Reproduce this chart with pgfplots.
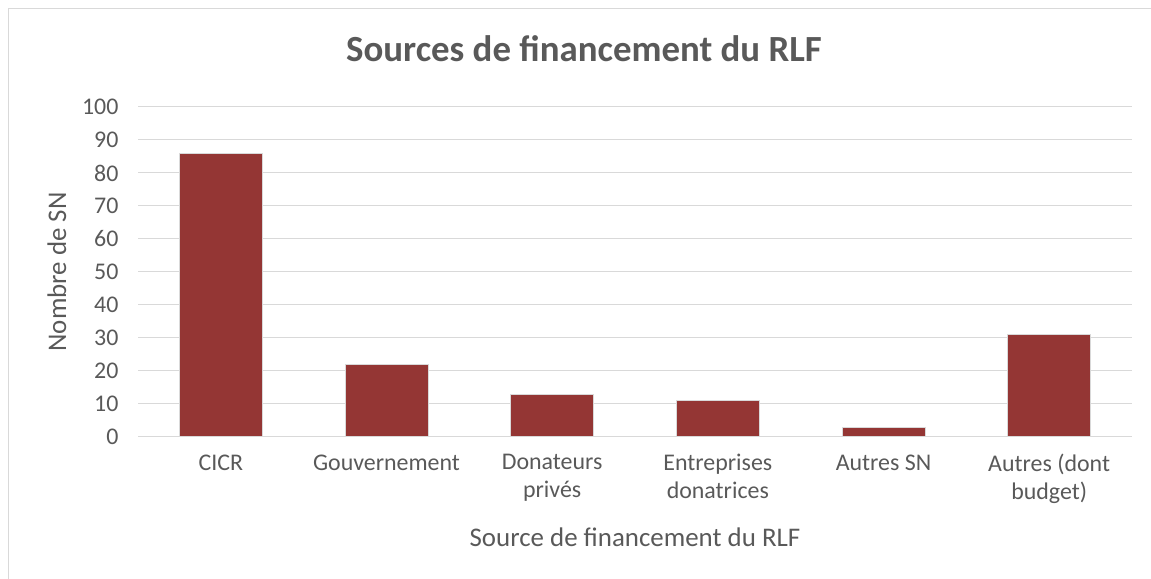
\documentclass[border=0pt]{standalone}
\usepackage{pgfplots}
\pgfplotsset{compat=1.18}
\usepackage{fontspec}
\setmainfont{Carlito}
\definecolor{barred}{HTML}{943634}
\definecolor{txtgray}{HTML}{595959}
\definecolor{gridgray}{HTML}{D9D9D9}
\begin{document}
\begin{tikzpicture}
\useasboundingbox (0bp,0bp) rectangle (1151bp,579bp);
\draw[gridgray, line width=1bp] (8bp,-10bp) -- (8bp,570bp) -- (1160bp,570bp);
\begin{axis}[
  at={(138bp,142bp)}, anchor=south west,
  scale only axis, width=994bp, height=330bp,
  xmin=-0.5, xmax=5.5, ymin=0, ymax=100,
  ytick={0,10,...,100},
  xtick=data,
  xticklabels={CICR, Gouvernement, {Donateurs\\privés}, {Entreprises\\donatrices}, Autres SN, {Autres (dont\\budget)}},
  xticklabel style={align=center, font=\fontsize{24}{28}\selectfont, text=txtgray, anchor=north, yshift=-14bp},
  yticklabel style={font=\fontsize{24}{28}\selectfont, text=txtgray, anchor=east, xshift=-16bp},
  /pgf/number format/assume math mode=true,
  ymajorgrids, grid style={gridgray, line width=1bp},
  axis x line*=bottom, axis y line*=left,
  x axis line style={gridgray, line width=1bp, -},
  y axis line style={draw=none},
  major tick length=0pt,
  ylabel={Nombre de SN}, ylabel style={font=\fontsize{27}{30}\selectfont, text=txtgray, at={(axis description cs:0,0.5)}, anchor=center, yshift=81bp},
  xlabel={Source de financement du RLF}, xlabel style={font=\fontsize{27}{30}\selectfont, text=txtgray, at={(axis description cs:0.5,0)}, anchor=center, yshift=-100bp},
  ybar, bar width=83bp,
  title={\textbf{Sources de financement du RLF}},
  title style={font=\fontsize{37}{42}\selectfont, text=txtgray, at={(axis description cs:0.5,1)}, anchor=center, yshift=52bp, xshift=-51bp},
]
\addplot[fill=barred, draw=gridgray, line width=1bp] coordinates {(0,86) (1,22) (2,13) (3,11) (4,3) (5,31)};
\end{axis}
\end{tikzpicture}
\end{document}
